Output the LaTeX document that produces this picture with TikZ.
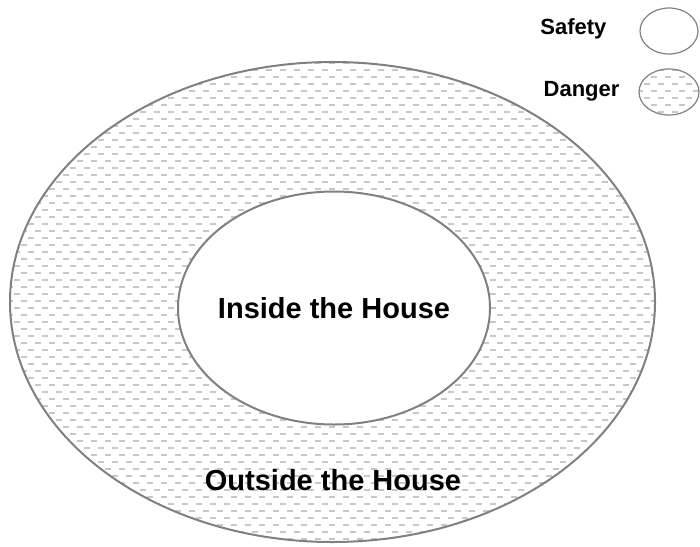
\documentclass[tikz,border=0pt]{standalone}
\usepackage{fontspec}
\setmainfont{Liberation Sans}
\usepackage{tikz}
\usetikzlibrary{shapes.geometric, patterns}

% light dashed fill for the danger zone
\pgfdeclarepatternformonly{dashfill}{\pgfqpoint{-1pt}{-1pt}}{\pgfqpoint{15pt}{15pt}}{\pgfqpoint{14pt}{14pt}}{
  \pgfsetlinewidth{1.3pt}
  \pgfpathmoveto{\pgfqpoint{0pt}{0pt}}\pgfpathlineto{\pgfqpoint{6pt}{0pt}}
  \pgfpathmoveto{\pgfqpoint{7pt}{7pt}}\pgfpathlineto{\pgfqpoint{13pt}{7pt}}
  \pgfusepath{stroke}
}

\begin{document}
\begin{tikzpicture}[x=1pt, y=-1pt,
    zone/.style={ellipse, draw=black!50, line width=2pt, inner sep=0pt},
    danger/.style={pattern=dashfill, pattern color=black!22},
    label/.style={font=\bfseries\fontsize{29}{34}\selectfont},
    key/.style={font=\bfseries\fontsize{22}{26}\selectfont}]
  \useasboundingbox (0,0) rectangle (700,546);
  % zones
  \node[zone, danger, minimum width=645, minimum height=480] (outer) at (332.5,302) {};
  \node[zone, fill=white, minimum width=312, minimum height=233] (inner) at (334,308) {};
  \node[label] (insidetxt) at (inner.center) {Inside the House};
  \node[label] (outsidetxt) at (333,480) {Outside the House};
  % legend
  \node[zone, line width=1.2pt, minimum width=58, minimum height=46] (safekey) at (669,31) {};
  \node[zone, danger, line width=1.2pt, minimum width=60, minimum height=46] (dangerkey) at (669,92) {};
  \node[key, anchor=east] (safetxt) at (610,29) {Safety};
  \node[key, anchor=east] (dangertxt) at (623,91) {Danger};
\end{tikzpicture}
\end{document}
